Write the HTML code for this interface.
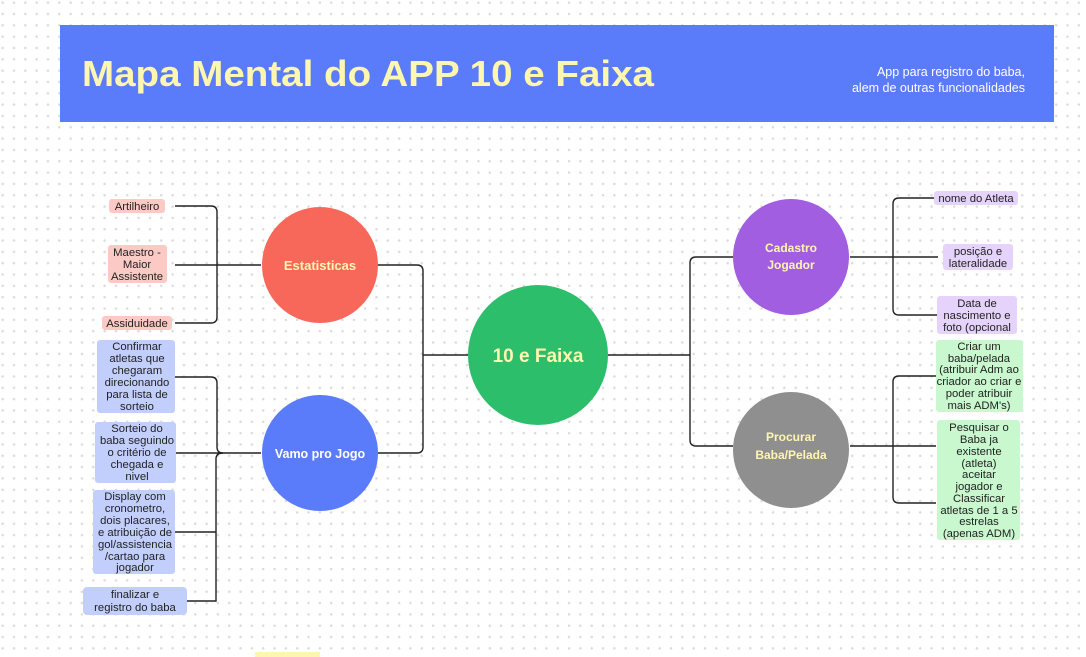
<!DOCTYPE html>
<html><head><meta charset="utf-8"><style>
html,body{margin:0;padding:0;}
body{width:1086px;height:657px;overflow:hidden;background:#fff;
background-image:radial-gradient(circle,#dcdcdc 1.2px,transparent 1.4px);
background-size:11.33px 11.33px;background-position:-3px -3px;}
svg{position:absolute;left:0;top:0;}
text{font-family:"Liberation Sans",sans-serif;}
.l{font-size:11.3px;fill:#222;text-anchor:middle;}
</style></head><body>
<svg width="1086" height="657" viewBox="0 0 1086 657">
<rect x="60" y="25" width="994" height="97" fill="#5b7cfa"/>
<text x="82" y="86" font-size="36" font-weight="bold" fill="#fff6b0" textLength="572" lengthAdjust="spacingAndGlyphs">Mapa Mental do APP 10 e Faixa</text>
<text x="1025" y="76" font-size="12.5" fill="#fff" text-anchor="end">App para registro do baba,</text>
<text x="1025" y="92" font-size="12.5" fill="#fff" text-anchor="end">alem de outras funcionalidades</text>
<rect x="255" y="652" width="65" height="6" fill="#fdf6b0"/>

<g fill="none" stroke="#222" stroke-width="1.4">
<path d="M378 265 H417 Q423 265 423 271 V447 Q423 453 417 453 H378"/>
<path d="M423 355 H468"/>
<path d="M608 355 H690"/>
<path d="M733 257 H696 Q690 257 690 263 V440 Q690 446 696 446 H733"/>
<path d="M175 206 H211 Q217 206 217 212 V317 Q217 323 211 323 H175"/>
<path d="M175 265 H261"/>
<path d="M175 377 H211 Q217 377 217 383 V447 Q217 453 223 453"/>
<path d="M176 453 H261"/>
<path d="M223 453 Q216 453 216 459 V601 H187"/>
<path d="M175 532 H216"/>
<path d="M850 257 H893"/>
<path d="M938 198 H899 Q893 198 893 204 V309 Q893 315 899 315 H938"/>
<path d="M893 257 H938"/>
<path d="M850 446 H893"/>
<path d="M936 376 H899 Q893 376 893 382 V497 Q893 503 899 503 H936"/>
<path d="M893 446 H936"/>
</g>

<circle cx="538" cy="355" r="70" fill="#2dbe6c"/>
<text x="538" y="362" font-size="19" font-weight="bold" fill="#fff6b0" text-anchor="middle">10 e Faixa</text>
<circle cx="320" cy="265" r="58" fill="#f7685a"/>
<text x="320" y="270" font-size="13" font-weight="bold" fill="#fff6b0" text-anchor="middle">Estatisticas</text>
<circle cx="320" cy="453" r="58" fill="#5b7cfa"/>
<text x="320" y="458" font-size="12.5" font-weight="bold" fill="#fff" text-anchor="middle">Vamo pro Jogo</text>
<circle cx="791" cy="257" r="58" fill="#a25ee0"/>
<text x="791" y="252" font-size="12" font-weight="bold" fill="#fff6b0" text-anchor="middle">Cadastro</text>
<text x="791" y="269" font-size="12" font-weight="bold" fill="#fff6b0" text-anchor="middle">Jogador</text>
<circle cx="791" cy="450" r="58" fill="#8f8f8f"/>
<text x="791" y="441" font-size="12" font-weight="bold" fill="#fff6b0" text-anchor="middle">Procurar</text>
<text x="791" y="459" font-size="12" font-weight="bold" fill="#fff6b0" text-anchor="middle">Baba/Pelada</text>

<g fill="#fbcac5">
<rect x="109" y="199" width="56" height="14" rx="3"/>
<rect x="108" y="245" width="59" height="38" rx="3"/>
<rect x="102" y="316" width="70" height="14" rx="3"/>
</g>
<g fill="#c2cffc">
<rect x="97" y="340" width="78" height="73" rx="3"/>
<rect x="95" y="422" width="81" height="61" rx="3"/>
<rect x="93" y="490" width="82" height="84" rx="3"/>
<rect x="83" y="587" width="104" height="28" rx="4"/>
</g>
<text class="l" x="137" y="210">Artilheiro</text>
<text class="l" x="137" y="256">Maestro -</text>
<text class="l" x="137" y="268">Maior</text>
<text class="l" x="137" y="280">Assistente</text>
<text class="l" x="137" y="327">Assiduidade</text>
<text class="l" x="137" y="350">Confirmar</text>
<text class="l" x="137" y="362">atletas que</text>
<text class="l" x="137" y="374">chegaram</text>
<text class="l" x="137" y="386">direcionando</text>
<text class="l" x="137" y="398">para lista de</text>
<text class="l" x="137" y="410">sorteio</text>
<text class="l" x="137" y="432">Sorteio do</text>
<text class="l" x="137" y="444">baba seguindo</text>
<text class="l" x="137" y="456">o critério de</text>
<text class="l" x="137" y="468">chegada e</text>
<text class="l" x="137" y="480">nivel</text>
<text class="l" x="135" y="500">Display com</text>
<text class="l" x="135" y="512">cronometro,</text>
<text class="l" x="135" y="524">dois placares,</text>
<text class="l" x="135" y="536">e atribuição de</text>
<text class="l" x="135" y="548">gol/assistencia</text>
<text class="l" x="135" y="560">/cartao para</text>
<text class="l" x="135" y="571">jogador</text>
<text class="l" x="135" y="598" font-size="12.5">finalizar e</text>
<text class="l" x="135" y="611" font-size="12.5">registro do baba</text>

<g fill="#e5d3fb">
<rect x="934" y="191" width="84" height="14" rx="3"/>
<rect x="943" y="244" width="70" height="26" rx="3"/>
<rect x="937" y="296" width="80" height="38" rx="3"/>
</g>
<g fill="#c9f8cf">
<rect x="936" y="340" width="87" height="72" rx="3"/>
<rect x="937" y="420" width="83" height="120" rx="3"/>
</g>
<text class="l" x="976" y="202">nome do Atleta</text>
<text class="l" x="978" y="255">posição e</text>
<text class="l" x="978" y="267">lateralidade</text>
<text class="l" x="977" y="307">Data de</text>
<text class="l" x="977" y="319">nascimento e</text>
<text class="l" x="977" y="331">foto (opcional</text>
<text class="l" x="979" y="350">Criar um</text>
<text class="l" x="979" y="362">baba/pelada</text>
<text class="l" x="979" y="373">(atribuir Adm ao</text>
<text class="l" x="979" y="385">criador ao criar e</text>
<text class="l" x="979" y="397">poder atribuir</text>
<text class="l" x="979" y="409">mais ADM's)</text>
<text class="l" x="979" y="431">Pesquisar o</text>
<text class="l" x="979" y="443">Baba ja</text>
<text class="l" x="979" y="455">existente</text>
<text class="l" x="979" y="467">(atleta)</text>
<text class="l" x="979" y="478">aceitar</text>
<text class="l" x="979" y="490">jogador  e</text>
<text class="l" x="979" y="502">Classificar</text>
<text class="l" x="979" y="514">atletas de 1 a 5</text>
<text class="l" x="979" y="525">estrelas</text>
<text class="l" x="979" y="537">(apenas ADM)</text>
</svg>
</body></html>
